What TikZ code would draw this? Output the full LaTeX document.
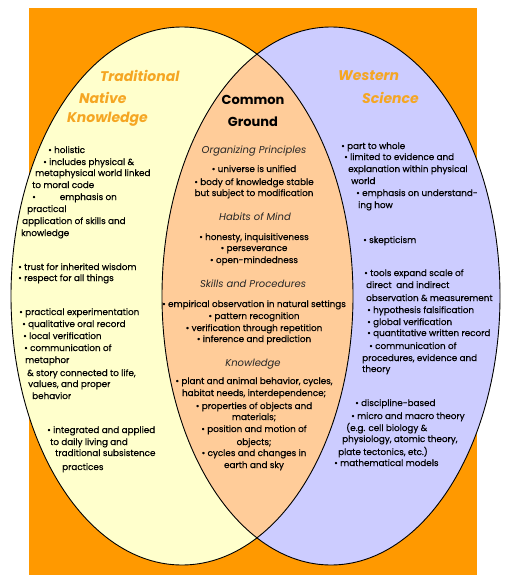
\documentclass[tikz,border=0pt]{standalone}
\usepackage{fontspec}
\setmainfont{Poppins}
\newfontfamily\bodyfont{Poppins}[FakeBold=0.5]
\definecolor{bgorange}{RGB}{255,153,0}
\definecolor{venyellow}{RGB}{255,255,204}
\definecolor{venlav}{RGB}{204,204,255}
\definecolor{venpeach}{RGB}{255,204,153}
\definecolor{titleorange}{RGB}{245,166,35}
\begin{document}
\begin{tikzpicture}[x=1pt,y=-1pt,
  body/.style={font=\bodyfont\fontsize{8.8}{10}\selectfont, inner sep=0pt, text=black},
  head/.style={font=\fontsize{10}{12}\selectfont\itshape, inner sep=0pt, text=black!85},
  ttl/.style={font=\fontsize{14}{18}\selectfont\bfseries\itshape, inner sep=0pt, text=titleorange},
  cttl/.style={font=\fontsize{13}{18}\selectfont\bfseries, inner sep=0pt, text=black},
  outline/.style={draw=black, line width=0.9pt}]
\useasboundingbox (0,0) rectangle (512,575);
\fill[white] (0,0) rectangle (512,575);
\fill[bgorange] (29,8) rectangle (477,575);
\fill[venyellow] (182,296) ellipse [x radius=171, y radius=269];
\fill[venlav] (331,296) ellipse [x radius=169, y radius=269];
\begin{scope}
  \clip (182,296) ellipse [x radius=171, y radius=269];
  \fill[venpeach] (331,296) ellipse [x radius=169, y radius=269];
\end{scope}
\draw[outline] (182,296) ellipse [x radius=171, y radius=269];
\draw[outline] (331,296) ellipse [x radius=169, y radius=269];

% titles
\node[ttl, anchor=base west] (t1) at (100,82) {Traditional};
\node[ttl, anchor=base west] (t2) at (79,103) {Native};
\node[ttl, anchor=base west] (t3) at (67,123) {Knowledge};
\node[cttl, anchor=base] (c1) at (253,105) {Common};
\node[cttl, anchor=base] (c2) at (253,126) {Ground};
\node[ttl, anchor=base west] (w1) at (338,81) {Western};
\node[ttl, anchor=base west] (w2) at (362,103) {Science};

% left texts
\foreach \x/\y/\t [count=\i] in {
  48/150/{• holistic},
  43/162/{• includes physical \&},
  35/173/{metaphysical world linked},
  32/185/{to moral code},
  32/197/{•\hspace{24pt}emphasis on},
  27/209/{practical},
  22/221/{application of skills and},
  21/233/{knowledge},
  18/267/{• trust for inherited wisdom},
  18/278/{• respect for all things},
  19/312/{• practical experimentation},
  22/324/{• qualitative oral record},
  23/336/{• local verification},
  24/348/{• communication of},
  25/360/{metaphor},
  27/373/{\& story connected to life,},
  28/384/{values, and proper},
  32/396/{behavior},
  47/430/{• integrated and applied},
  50/442/{to daily living and},
  55/453/{traditional subsistence},
  62/467/{practices}}
  \node[body, anchor=base west] (L\i) at (\x,\y+3) {\t};

% common ground
\foreach \y/\t [count=\i] in {
  169/{• universe is unified},
  182/{• body of knowledge stable},
  193/{but subject to modification},
  237/{• honesty, inquisitiveness},
  248/{• perseverance},
  260/{• open-mindedness},
  304/{• empirical observation in natural settings},
  316/{• pattern recognition},
  328/{• verification through repetition},
  339/{• inference and prediction},
  381/{• plant and animal behavior, cycles,},
  393/{habitat needs, interdependence;},
  406/{• properties of objects and},
  417/{materials;},
  429/{• position and motion of},
  442/{objects;},
  453/{• cycles and changes in},
  465/{earth and sky}}
  \node[body, anchor=base] (C\i) at (254,\y+3) {\t};

\node[head, anchor=base] (h1) at (254,153) {Organizing Principles};
\node[head, anchor=base] (h2) at (255,220) {Habits of Mind};
\node[head, anchor=base] (h3) at (253,287) {Skills and Procedures};
\node[head, anchor=base] (h4) at (253,366) {Knowledge};

% right texts
\foreach \x/\y/\t [count=\i] in {
  341/146/{• part to whole},
  344/157/{• limited to evidence and},
  348/169/{explanation within physical},
  351/181/{world},
  356/193/{• emphasis on understand-},
  358/205/{ing how},
  363/240/{• skepticism},
  364/273/{• tools expand scale of},
  366/285/{direct\ \ and indirect},
  366/298/{observation \& measurement},
  367/310/{• hypothesis falsification},
  367/322/{• global verification},
  367/333/{• quantitative written record},
  369/346/{• communication of},
  362/358/{procedures, evidence and},
  362/369/{theory},
  355/403/{• discipline-based},
  351/416/{• micro and macro theory},
  346/428/{(e.g. cell biology \&},
  342/439/{physiology, atomic theory,},
  338/452/{plate tectonics, etc.)},
  334/463/{• mathematical models}}
  \node[body, anchor=base west] (R\i) at (\x,\y+3) {\t};
\end{tikzpicture}
\end{document}
